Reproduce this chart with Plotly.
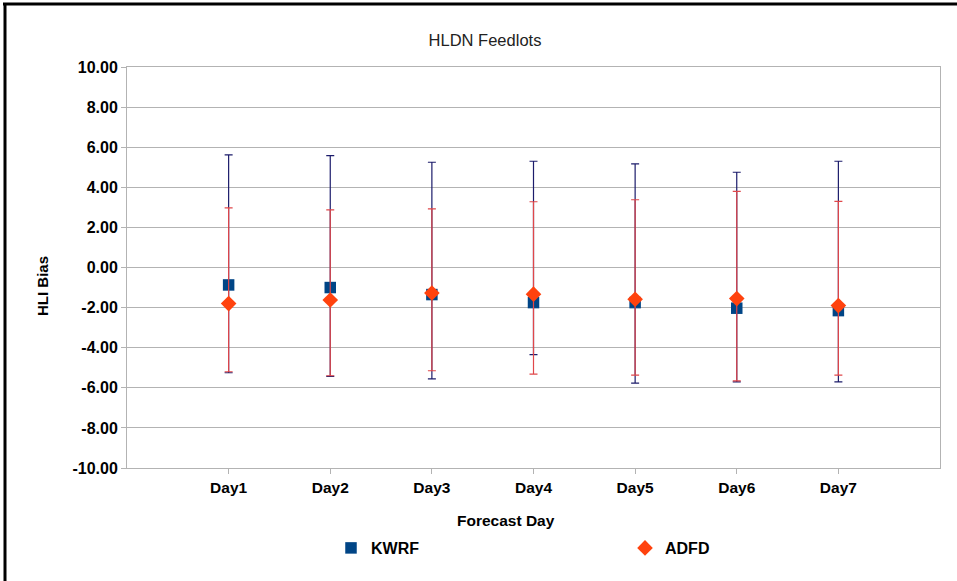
import plotly.graph_objects as go

days = ["Day1", "Day2", "Day3", "Day4", "Day5", "Day6", "Day7"]
kwrf_mean = [-0.87, -1.00, -1.35, -1.75, -1.75, -2.03, -2.15]
kwrf_upper = [5.62, 5.58, 5.25, 5.30, 5.17, 4.75, 5.30]
kwrf_lower = [-5.25, -5.43, -5.55, -4.35, -5.77, -5.70, -5.70]
adfd_mean = [-1.80, -1.62, -1.27, -1.33, -1.58, -1.55, -1.90]
adfd_upper = [2.97, 2.87, 2.92, 3.28, 3.38, 3.80, 3.30]
adfd_lower = [-5.20, -5.40, -5.15, -5.32, -5.37, -5.65, -5.37]
y_ticks = [-10, -8, -6, -4, -2, 0, 2, 4, 6, 8, 10]
y_tick_labels = ["-10.00", "-8.00", "-6.00", "-4.00", "-2.00", "0.00",
                 "2.00", "4.00", "6.00", "8.00", "10.00"]

W, H = 957, 581
L, R, T, B = 127, 17, 67, 113
pw, ph = W - L - R, H - T - B

def px(x):
    return (x - L) / pw

def py(y):
    return (H - B - y) / ph

FONT = "Liberation Sans, Arial, sans-serif"

fig = go.Figure()
fig.add_trace(go.Scatter(
    x=days, y=kwrf_mean, mode="markers", name="KWRF", legend="legend",
    marker=dict(symbol="square", size=11.5, color="#004586"),
    error_y=dict(type="data", symmetric=False,
                 array=[u - m for u, m in zip(kwrf_upper, kwrf_mean)],
                 arrayminus=[m - l for m, l in zip(kwrf_mean, kwrf_lower)],
                 color="#1c1c6b", thickness=1.2, width=4),
))
fig.add_trace(go.Scatter(
    x=days, y=adfd_mean, mode="markers", name="ADFD", legend="legend2",
    marker=dict(symbol="diamond", size=12, color="#ff420e"),
    error_y=dict(type="data", symmetric=False,
                 array=[u - m for u, m in zip(adfd_upper, adfd_mean)],
                 arrayminus=[m - l for m, l in zip(adfd_mean, adfd_lower)],
                 color="#e0474a", thickness=1.2, width=4),
))

legend_common = dict(orientation="h", yanchor="middle", y=py(548), xanchor="left",
                     itemwidth=30, bgcolor="rgba(0,0,0,0)",
                     font=dict(size=16, family=FONT, weight="bold"))

fig.update_layout(
    width=W, height=H,
    margin=dict(l=L, r=R, t=T, b=B),
    paper_bgcolor="white", plot_bgcolor="white",
    font=dict(family=FONT, color="#000000"),
    title=dict(text="HLDN Feedlots", x=px(485), xref="paper", xanchor="center",
               y=1 - 40 / H, yanchor="middle",
               font=dict(size=16.5, color="#222222", family=FONT)),
    showlegend=True,
    legend=dict(x=px(331), **legend_common),
    legend2=dict(x=px(625), **legend_common),
    xaxis=dict(range=[-1, 7], tickmode="array", tickvals=list(range(7)), ticktext=days,
               showgrid=False, showline=True, linecolor="#b3b3b3", mirror=True,
               ticks="outside", ticklen=5, tickcolor="#b3b3b3",
               tickfont=dict(size=15.5, family=FONT, weight="bold")),
    yaxis=dict(range=[-10, 10], tickmode="array", tickvals=y_ticks, ticktext=y_tick_labels,
               showgrid=True, gridcolor="#b3b3b3", gridwidth=1,
               showline=True, linecolor="#b3b3b3", mirror=True, zeroline=False,
               ticks="outside", ticklen=5, tickcolor="#b3b3b3",
               tickfont=dict(size=16, family=FONT, weight="bold")),
    annotations=[
        dict(text="HLI Bias", x=px(42), y=py(286), xref="paper", yref="paper",
             textangle=-90, showarrow=False, xanchor="center", yanchor="middle",
             font=dict(size=15, family=FONT, weight="bold")),
        dict(text="Forecast Day", x=px(506), y=py(520), xref="paper", yref="paper",
             showarrow=False, xanchor="center", yanchor="middle",
             font=dict(size=15.5, family=FONT, weight="bold")),
    ],
    shapes=[
        dict(type="line", xref="paper", yref="paper", x0=px(3), x1=px(957), y0=py(4), y1=py(4),
             line=dict(color="black", width=3)),
        dict(type="line", xref="paper", yref="paper", x0=px(5), x1=px(5), y0=py(3), y1=py(581),
             line=dict(color="black", width=3)),
    ],
)

fig.write_html("out.html", config={"displayModeBar": False},
               post_script="document.body.style.margin='0';")
